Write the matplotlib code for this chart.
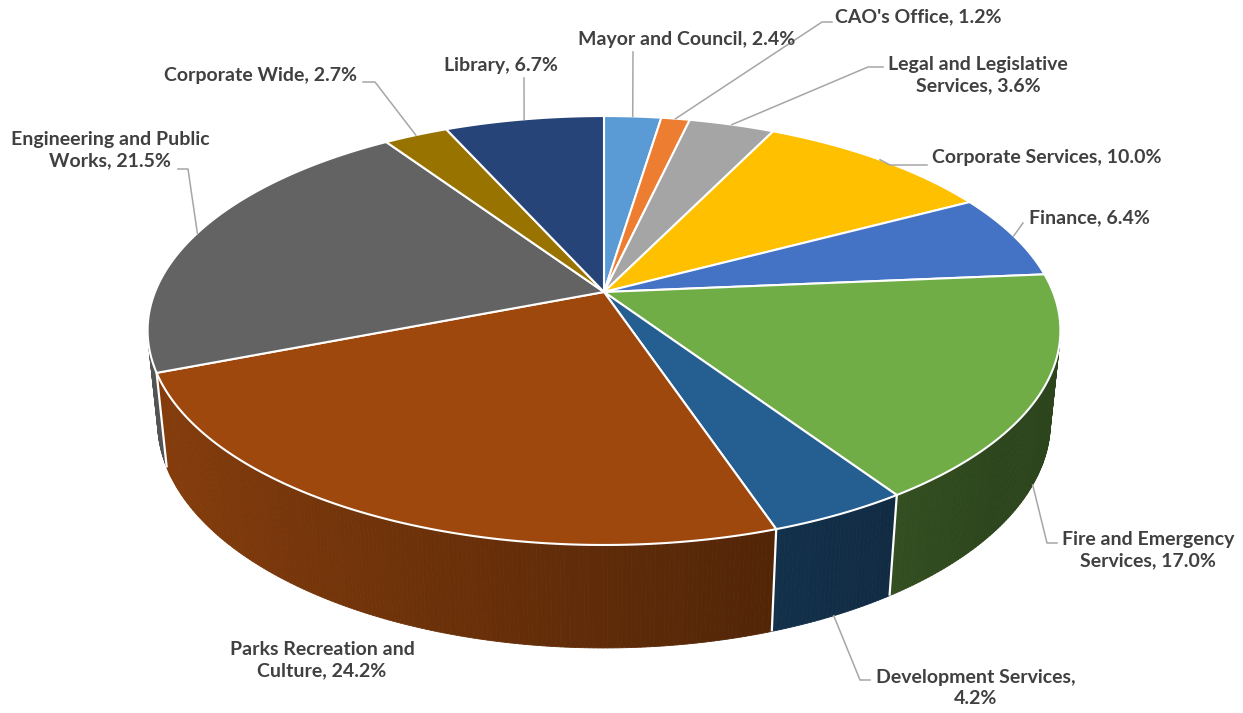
import numpy as np
import matplotlib.pyplot as plt
from matplotlib.patches import Polygon
from matplotlib.collections import PolyCollection
from matplotlib.colors import to_rgb

# Operating budget share by department
departments = ["Mayor and Council", "CAO's Office", "Legal and Legislative\nServices",
               "Corporate Services", "Finance", "Fire and Emergency\nServices",
               "Development Services,\n", "Parks Recreation and\nCulture",
               "Engineering and Public\nWorks", "Corporate Wide", "Library"]
shares = [2.4, 1.2, 3.6, 10.0, 6.4, 17.0, 4.2, 24.2, 21.5, 2.7, 6.7]
colors = ["#5B9BD5", "#ED7D31", "#A5A5A5", "#FFC000", "#4472C4", "#70AD47",
          "#255E91", "#9E480E", "#636363", "#997300", "#264478"]

# label centre (px) and leader elbows; anchor is "top" / "bottom" edge of the slice
label_pos = [(687, 40), (918, 17), (978, 75), (1047, 158), (1089, 218), (1148, 550),
             (976, 688), (322, 660), (110, 150), (261, 75), (501, 65)]
leaders = [[(633, 52)], [(832, 22), (822, 22)], [(883, 67), (868, 67)],
           [(927, 165), (890, 165)], [(1023, 223)], [(1057, 543), (1047, 543)],
           [(870, 680), (860, 680)], None, [(178, 169), (188, 169)],
           [(363, 82), (375, 82)], [(524, 78)]]
anchor_edge = ["top", "top", "top", "top", "top", "bottom",
               "bottom", None, "top", "top", "top"]

W, H = 1243, 713
fig = plt.figure(figsize=(W / 100, H / 100), dpi=100)
ax = fig.add_axes([0, 0, 1, 1])
ax.set_xlim(0, W)
ax.set_ylim(H, 0)
ax.axis("off")

# simple perspective camera looking down on a unit disc
CX, CY = 604, 292
TILT = np.arcsin(0.4623)
DIST = 4.94
FOCAL = 2218
THICK = 0.2316
S, C = np.sin(TILT), np.cos(TILT)


def project(phi, z):
    X, Y = np.sin(phi), np.cos(phi)
    depth = DIST + Y * C - z * S
    up = Y * S + z * C
    return CX + FOCAL * X / depth, CY - FOCAL * up / depth


def shade(rgb, phi):
    f = max(0.40, 0.60 - 0.26 * np.sin(phi))
    return tuple(v * f for v in rgb)


total = sum(shares)
edges = np.concatenate([[0], np.cumsum(shares)]) / total * 2 * np.pi
facing = lambda phi: np.cos(phi) < -1 / (DIST * C)

# outer walls (only the part turned towards the camera)
for i in range(len(shares)):
    a0, a1 = edges[i], edges[i + 1]
    base = to_rgb(colors[i])
    phis = np.linspace(a0, a1, max(3, int(np.degrees(a1 - a0) * 2)))
    quads, cols = [], []
    for p0, p1 in zip(phis[:-1], phis[1:]):
        pm = 0.5 * (p0 + p1)
        if not facing(pm):
            continue
        quads.append([project(p0, 0), project(p1, 0), project(p1, -THICK), project(p0, -THICK)])
        cols.append(shade(base, pm))
    if quads:
        ax.add_collection(PolyCollection(quads, facecolors=cols, edgecolors=cols, linewidths=0.6))

# white seams between walls
for a in edges[:-1]:
    if facing(a):
        xt, yt = project(a, 0)
        xb, yb = project(a, -THICK)
        ax.plot([xt, xb], [yt, yb], color="white", lw=1.6, solid_capstyle="butt")

# top faces
for i in range(len(shares)):
    phis = np.linspace(edges[i], edges[i + 1], max(4, int(np.degrees(edges[i + 1] - edges[i]) * 2)))
    pts = [(CX, CY)] + [project(p, 0) for p in phis]
    ax.add_patch(Polygon(pts, closed=True, facecolor=colors[i], edgecolor="white",
                         lw=1.5, joinstyle="round"))

# data labels with leader lines
for i, name in enumerate(departments):
    if name.endswith("\n"):
        text = f"{name}{shares[i]:.1f}%"
    else:
        text = f"{name}, {shares[i]:.1f}%"
    x, y = label_pos[i]
    ax.text(x, y, text, ha="center", va="center", fontsize=14, fontweight="bold",
            family=["Lato", "DejaVu Sans"], color="#404040", linespacing=1.35)
    if leaders[i] is None:
        continue
    mid = 0.5 * (edges[i] + edges[i + 1])
    anchor = project(mid, 0 if anchor_edge[i] == "top" else -THICK)
    path = leaders[i] + [anchor]
    ax.plot([p[0] for p in path], [p[1] for p in path], color="#A6A6A6", lw=1.1)

fig.savefig("out.png", dpi=100)
